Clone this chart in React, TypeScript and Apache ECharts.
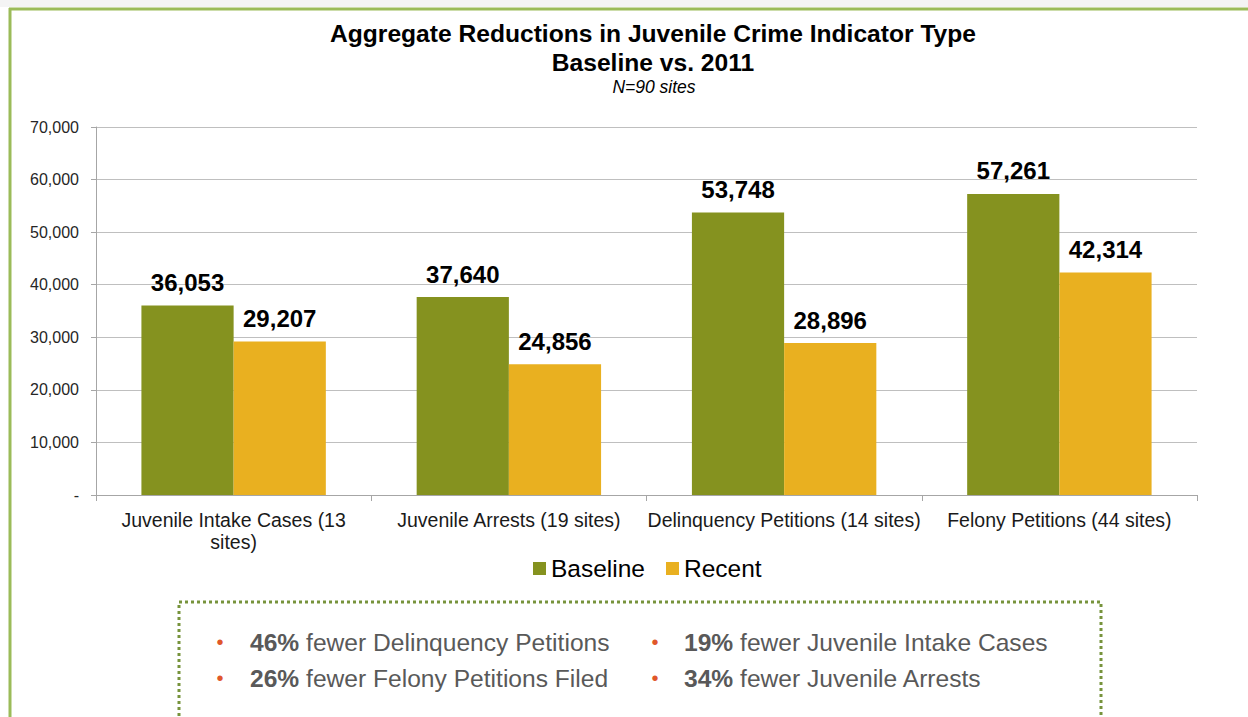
import React, { useEffect, useRef } from "react";
import * as echarts from "echarts";

const categories = [
  "Juvenile Intake Cases (13\nsites)",
  "Juvenile Arrests (19 sites)",
  "Delinquency Petitions (14 sites)",
  "Felony Petitions (44 sites)",
];
const baselineValues = [36053, 37640, 53748, 57261];
const recentValues = [29207, 24856, 28896, 42314];
const seriesNames = ["Baseline", "Recent"];
const yTicks = { min: 0, max: 70000, interval: 10000 };
const titleLines = ["Aggregate Reductions in Juvenile Crime Indicator Type", "Baseline vs. 2011"];
const subtitle = "N=90 sites";
const bulletsLeft = [
  ["46%", " fewer Delinquency Petitions"],
  ["26%", " fewer Felony Petitions Filed"],
];
const bulletsRight = [
  ["19%", " fewer Juvenile Intake Cases"],
  ["34%", " fewer Juvenile Arrests"],
];

const FONT = "'Liberation Sans', Arial, sans-serif";
const GREEN = "#85921F";
const ORANGE = "#E9B020";

const fmt = (v: number) => v.toLocaleString("en-US");

export default function App() {
  const ref = useRef<HTMLDivElement>(null);
  useEffect(() => {
    if (!ref.current) return;
    const chart = echarts.init(ref.current, null, { renderer: "svg" });

    const bulletText = (items: string[][], bx: number, tx: number) =>
      items.flatMap((it, i) => [
        {
          type: "text",
          x: bx,
          y: 642 + i * 36,
          style: {
            text: "•",
            font: "20px " + FONT,
            fill: "#E0572A",
            textAlign: "center",
            textVerticalAlign: "middle",
          },
        },
        {
          type: "text",
          x: tx,
          y: 642 + i * 36,
          style: {
            text: "{p|" + it[0] + "}{t|" + it[1] + "}",
            textVerticalAlign: "middle",
            rich: {
              p: { fill: "#595959", fontSize: 24.6, fontWeight: "bold", fontFamily: FONT },
              t: { fill: "#595959", fontSize: 24.6, fontFamily: FONT },
            },
          },
        },
      ]);

    const labelCfg = {
      show: true,
      position: "top",
      distance: 11,
      fontSize: 24,
      fontWeight: "bold",
      color: "#000",
      fontFamily: FONT,
      formatter: (p: any) => fmt(p.value),
    };

    chart.setOption({
      animation: false,
      backgroundColor: "#ffffff",
      textStyle: { fontFamily: FONT },
      grid: { left: 96, right: 51, top: 127, bottom: 222, containLabel: false },
      legend: {
        data: seriesNames,
        left: 528,
        top: 551,
        itemWidth: 13,
        itemHeight: 13,
        itemGap: 21,
        icon: "rect",
        textStyle: { fontSize: 24.5, color: "#000", fontFamily: FONT },
      },
      xAxis: {
        type: "category",
        data: categories,
        axisLine: { lineStyle: { color: "#A6A6A6" } },
        axisTick: { show: true, alignWithLabel: false, length: 6, lineStyle: { color: "#A6A6A6" } },
        axisLabel: {
          fontSize: 19.5,
          color: "#1a1a1a",
          margin: 14,
          lineHeight: 22,
          interval: 0,
          fontFamily: FONT,
        },
      },
      yAxis: {
        type: "value",
        min: yTicks.min,
        max: yTicks.max,
        interval: yTicks.interval,
        axisLine: { show: true, lineStyle: { color: "#A6A6A6" } },
        axisTick: { show: true, length: 5, lineStyle: { color: "#A6A6A6" } },
        splitLine: { lineStyle: { color: "#BFBFBF" } },
        axisLabel: {
          fontSize: 16,
          color: "#262626",
          margin: 17,
          fontFamily: FONT,
          formatter: (v: number) => (v === 0 ? "-" : fmt(v)),
        },
      },
      series: [
        {
          name: seriesNames[0],
          type: "bar",
          data: baselineValues,
          barGap: "0%",
          barCategoryGap: "33%",
          itemStyle: { color: GREEN },
          label: labelCfg,
        },
        {
          name: seriesNames[1],
          type: "bar",
          data: recentValues,
          barGap: "0%",
          barCategoryGap: "33%",
          itemStyle: { color: ORANGE },
          label: labelCfg,
        },
      ],
      graphic: [
        { type: "rect", shape: { x: 0, y: 0, width: 1248, height: 7 }, style: { fill: "#F4F4F4" }, silent: true },
        { type: "line", shape: { x1: 9, y1: 9, x2: 1248, y2: 9 }, style: { stroke: "#9BBB59", lineWidth: 3 } },
        { type: "line", shape: { x1: 10, y1: 8, x2: 10, y2: 717 }, style: { stroke: "#9BBB59", lineWidth: 3 } },
        {
          type: "text",
          x: 653,
          y: 33,
          style: {
            text: titleLines[0],
            font: "bold 24.6px " + FONT,
            fill: "#000",
            textAlign: "center",
            textVerticalAlign: "middle",
          },
        },
        {
          type: "text",
          x: 653,
          y: 62,
          style: {
            text: titleLines[1],
            font: "bold 24.6px " + FONT,
            fill: "#000",
            textAlign: "center",
            textVerticalAlign: "middle",
          },
        },
        {
          type: "text",
          x: 654,
          y: 87,
          style: {
            text: subtitle,
            font: "italic 17.5px " + FONT,
            fill: "#000",
            textAlign: "center",
            textVerticalAlign: "middle",
          },
        },
        {
          type: "rect",
          shape: { x: 179, y: 602, width: 922, height: 140 },
          style: { fill: "none", stroke: "#77933C", lineWidth: 3, lineDash: [3, 3] },
        },
        ...bulletText(bulletsLeft, 220, 250),
        ...bulletText(bulletsRight, 655, 684),
      ],
    });
    return () => chart.dispose();
  }, []);
  return (
    <div
      ref={ref}
      style={{ position: "fixed", left: 0, top: 0, width: 1248, height: 717 }}
    />
  );
}
